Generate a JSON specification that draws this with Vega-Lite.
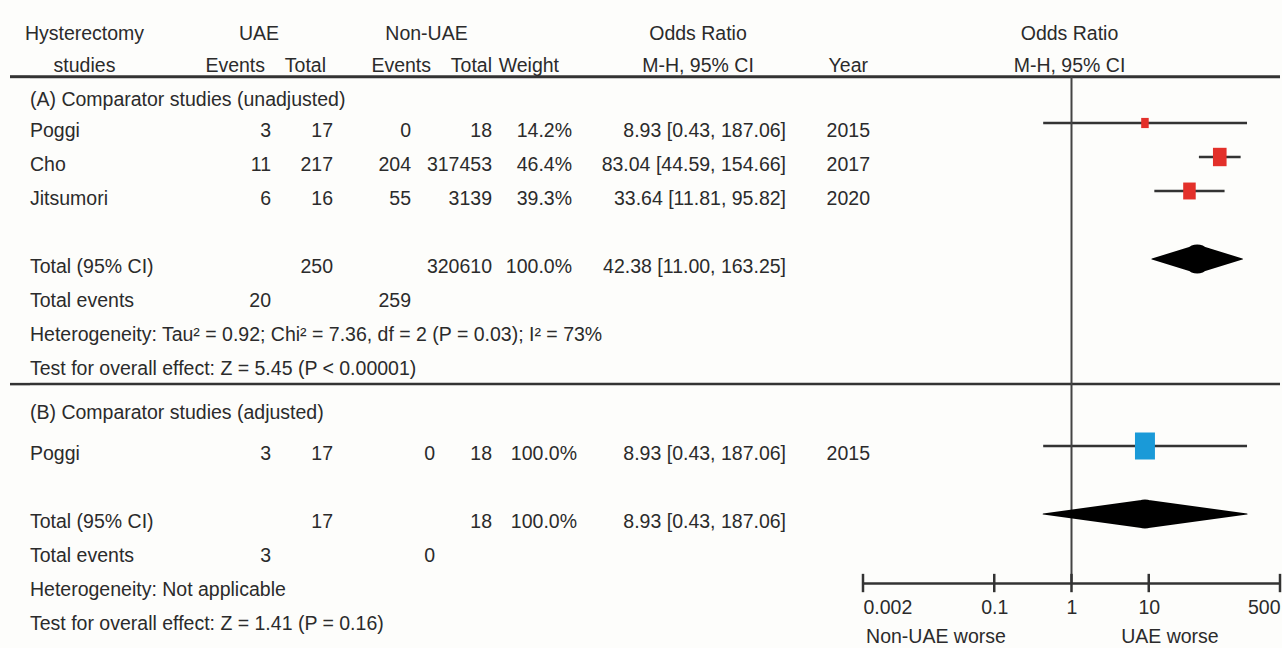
{
  "$schema": "https://vega.github.io/schema/vega-lite/v6.json",
  "background": "#fdfdfb",
  "padding": {"left": 8, "right": 4, "top": 0, "bottom": 0},
  "spacing": 0,
  "bounds": "flush",
  "config": {
    "view": {"stroke": null},
    "font": "Liberation Sans",
    "text": {"fontSize": 19.5, "color": "#2b2b2b", "baseline": "middle", "dy": 8, "font": "Liberation Sans"}
  },
  "datasets": {
    "rows": [
      {"row": -0.9, "study": "(A) Comparator studies (unadjusted)"},
      {"row": 0, "section": "A", "study": "Poggi", "uae_ev": "3", "uae_tot": "17", "non_ev": "0", "non_tot": "18", "weight": "14.2%", "or_ci": "8.93 [0.43, 187.06]", "year": "2015", "or": 8.93, "lo": 0.43, "hi": 187.06, "w": 14.2},
      {"row": 1, "section": "A", "study": "Cho", "uae_ev": "11", "uae_tot": "217", "non_ev": "204", "non_tot": "317453", "weight": "46.4%", "or_ci": "83.04 [44.59, 154.66]", "year": "2017", "or": 83.04, "lo": 44.59, "hi": 154.66, "w": 46.4},
      {"row": 2, "section": "A", "study": "Jitsumori", "uae_ev": "6", "uae_tot": "16", "non_ev": "55", "non_tot": "3139", "weight": "39.3%", "or_ci": "33.64 [11.81, 95.82]", "year": "2020", "or": 33.64, "lo": 11.81, "hi": 95.82, "w": 39.3},
      {"row": 4, "section": "A", "study": "Total (95% CI)", "uae_tot": "250", "non_tot": "320610", "weight": "100.0%", "or_ci": "42.38 [11.00, 163.25]", "pooled": 42.38, "plo": 11.00, "phi": 163.25},
      {"row": 5, "section": "A", "study": "Total events", "uae_ev": "20", "non_ev": "259"},
      {"row": 6, "section": "A", "study": "Heterogeneity: Tau² = 0.92; Chi² = 7.36, df = 2 (P = 0.03); I² = 73%"},
      {"row": 7, "section": "A", "study": "Test for overall effect: Z = 5.45 (P < 0.00001)"},
      {"row": 8.3, "study": "(B) Comparator studies (adjusted)"},
      {"row": 9.5, "section": "B", "study": "Poggi", "uae_ev": "3", "uae_tot": "17", "non_ev": "0", "non_tot": "18", "weight": "100.0%", "or_ci": "8.93 [0.43, 187.06]", "year": "2015", "or": 8.93, "lo": 0.43, "hi": 187.06, "w": 100},
      {"row": 11.5, "section": "B", "study": "Total (95% CI)", "uae_tot": "17", "non_tot": "18", "weight": "100.0%", "or_ci": "8.93 [0.43, 187.06]", "pooled": 8.93, "plo": 0.43, "phi": 187.06},
      {"row": 12.5, "section": "B", "study": "Total events", "uae_ev": "3", "non_ev": "0"},
      {"row": 13.5, "section": "B", "study": "Heterogeneity: Not applicable"},
      {"row": 14.5, "section": "B", "study": "Test for overall effect: Z = 1.41 (P = 0.16)"}
    ],
    "header": [
      {"row": -2.85, "study": "Hysterectomy", "uae": "UAE", "non": "Non-UAE", "or_ci": "Odds Ratio", "plot": "Odds Ratio"},
      {"row": -1.9, "study": "studies", "uae_ev": "Events", "uae_tot": "Total", "non_ev": "Events", "non_tot": "Total", "weight": "Weight", "or_ci": "M-H, 95% CI", "year": "Year", "plot": "M-H, 95% CI"}
    ],
    "ticks": [{"tick": 0.002}, {"tick": 0.1}, {"tick": 1}, {"tick": 10}, {"tick": 500}]
  },
  "hconcat": [
    {
      "width": 20, "height": 648,
      "layer": [
        {"data": {"values": [{}]}, "mark": {"type": "rule", "stroke": "#333", "strokeWidth": 3}, "encoding": {"y": {"datum": -1.362, "type": "quantitative", "scale": {"domain": [-3.6176, 15.4412], "reverse": true, "nice": false, "zero": false}, "axis": null}}},
        {"data": {"values": [{}]}, "mark": {"type": "rule", "stroke": "#333", "strokeWidth": 2.5}, "encoding": {"y": {"datum": 7.68, "type": "quantitative"}}},
        {"data": {"name": "rows"}, "mark": {"type": "text", "align": "left"}, "encoding": {"x": {"value": "width"}, "y": {"field": "row", "type": "quantitative"}, "text": {"field": "study"}}},
        {"data": {"name": "header"}, "transform": [{"filter": "datum.study != null"}], "mark": {"type": "text", "align": "center", "dx": 54.5}, "encoding": {"x": {"value": "width"}, "y": {"field": "row", "type": "quantitative"}, "text": {"field": "study"}}}
      ]
    },
    {
      "width": 241, "height": 648,
      "layer": [
        {"data": {"values": [{}]}, "mark": {"type": "rule", "stroke": "#333", "strokeWidth": 3}, "encoding": {"y": {"datum": -1.362, "type": "quantitative", "scale": {"domain": [-3.6176, 15.4412], "reverse": true, "nice": false, "zero": false}, "axis": null}}},
        {"data": {"values": [{}]}, "mark": {"type": "rule", "stroke": "#333", "strokeWidth": 2.5}, "encoding": {"y": {"datum": 7.68, "type": "quantitative"}}},
        {"data": {"name": "rows"}, "transform": [{"filter": "datum.uae_ev != null"}], "mark": {"type": "text", "align": "right"}, "encoding": {"x": {"value": "width"}, "y": {"field": "row", "type": "quantitative"}, "text": {"field": "uae_ev"}}},
        {"data": {"name": "header"}, "transform": [{"filter": "datum.uae_ev != null"}], "mark": {"type": "text", "align": "right", "dx": -6}, "encoding": {"x": {"value": "width"}, "y": {"field": "row", "type": "quantitative"}, "text": {"field": "uae_ev"}}},
        {"data": {"name": "header"}, "transform": [{"filter": "datum.uae != null"}], "mark": {"type": "text", "align": "center", "dx": -12}, "encoding": {"x": {"value": "width"}, "y": {"field": "row", "type": "quantitative"}, "text": {"field": "uae"}}}
      ]
    },
    {
      "width": 62, "height": 648,
      "layer": [
        {"data": {"values": [{}]}, "mark": {"type": "rule", "stroke": "#333", "strokeWidth": 3}, "encoding": {"y": {"datum": -1.362, "type": "quantitative", "scale": {"domain": [-3.6176, 15.4412], "reverse": true, "nice": false, "zero": false}, "axis": null}}},
        {"data": {"values": [{}]}, "mark": {"type": "rule", "stroke": "#333", "strokeWidth": 2.5}, "encoding": {"y": {"datum": 7.68, "type": "quantitative"}}},
        {"data": {"name": "rows"}, "transform": [{"filter": "datum.uae_tot != null"}], "mark": {"type": "text", "align": "right"}, "encoding": {"x": {"value": "width"}, "y": {"field": "row", "type": "quantitative"}, "text": {"field": "uae_tot"}}},
        {"data": {"name": "header"}, "transform": [{"filter": "datum.uae_tot != null"}], "mark": {"type": "text", "align": "right", "dx": -7}, "encoding": {"x": {"value": "width"}, "y": {"field": "row", "type": "quantitative"}, "text": {"field": "uae_tot"}}}
      ]
    },
    {
      "width": 78, "height": 648,
      "layer": [
        {"data": {"values": [{}]}, "mark": {"type": "rule", "stroke": "#333", "strokeWidth": 3}, "encoding": {"y": {"datum": -1.362, "type": "quantitative", "scale": {"domain": [-3.6176, 15.4412], "reverse": true, "nice": false, "zero": false}, "axis": null}}},
        {"data": {"values": [{}]}, "mark": {"type": "rule", "stroke": "#333", "strokeWidth": 2.5}, "encoding": {"y": {"datum": 7.68, "type": "quantitative"}}},
        {"data": {"name": "rows"}, "transform": [{"filter": "datum.non_ev != null && datum.section === 'A'"}], "mark": {"type": "text", "align": "right"}, "encoding": {"x": {"value": "width"}, "y": {"field": "row", "type": "quantitative"}, "text": {"field": "non_ev"}}},
        {"data": {"name": "rows"}, "transform": [{"filter": "datum.non_ev != null && datum.section === 'B'"}], "mark": {"type": "text", "align": "right", "dx": 24}, "encoding": {"x": {"value": "width"}, "y": {"field": "row", "type": "quantitative"}, "text": {"field": "non_ev"}}},
        {"data": {"name": "header"}, "transform": [{"filter": "datum.non_ev != null"}], "mark": {"type": "text", "align": "right", "dx": 20}, "encoding": {"x": {"value": "width"}, "y": {"field": "row", "type": "quantitative"}, "text": {"field": "non_ev"}}},
        {"data": {"name": "header"}, "transform": [{"filter": "datum.non != null"}], "mark": {"type": "text", "align": "center", "dx": 15.5}, "encoding": {"x": {"value": "width"}, "y": {"field": "row", "type": "quantitative"}, "text": {"field": "non"}}}
      ]
    },
    {
      "width": 81, "height": 648,
      "layer": [
        {"data": {"values": [{}]}, "mark": {"type": "rule", "stroke": "#333", "strokeWidth": 3}, "encoding": {"y": {"datum": -1.362, "type": "quantitative", "scale": {"domain": [-3.6176, 15.4412], "reverse": true, "nice": false, "zero": false}, "axis": null}}},
        {"data": {"values": [{}]}, "mark": {"type": "rule", "stroke": "#333", "strokeWidth": 2.5}, "encoding": {"y": {"datum": 7.68, "type": "quantitative"}}},
        {"data": {"name": "rows"}, "transform": [{"filter": "datum.non_tot != null"}], "mark": {"type": "text", "align": "right"}, "encoding": {"x": {"value": "width"}, "y": {"field": "row", "type": "quantitative"}, "text": {"field": "non_tot"}}},
        {"data": {"name": "header"}, "transform": [{"filter": "datum.non_tot != null"}], "mark": {"type": "text", "align": "right"}, "encoding": {"x": {"value": "width"}, "y": {"field": "row", "type": "quantitative"}, "text": {"field": "non_tot"}}}
      ]
    },
    {
      "width": 80, "height": 648,
      "layer": [
        {"data": {"values": [{}]}, "mark": {"type": "rule", "stroke": "#333", "strokeWidth": 3}, "encoding": {"y": {"datum": -1.362, "type": "quantitative", "scale": {"domain": [-3.6176, 15.4412], "reverse": true, "nice": false, "zero": false}, "axis": null}}},
        {"data": {"values": [{}]}, "mark": {"type": "rule", "stroke": "#333", "strokeWidth": 2.5}, "encoding": {"y": {"datum": 7.68, "type": "quantitative"}}},
        {"data": {"name": "rows"}, "transform": [{"filter": "datum.weight != null && datum.section === 'A'"}], "mark": {"type": "text", "align": "right"}, "encoding": {"x": {"value": "width"}, "y": {"field": "row", "type": "quantitative"}, "text": {"field": "weight"}}},
        {"data": {"name": "rows"}, "transform": [{"filter": "datum.weight != null && datum.section === 'B'"}], "mark": {"type": "text", "align": "right", "dx": 5}, "encoding": {"x": {"value": "width"}, "y": {"field": "row", "type": "quantitative"}, "text": {"field": "weight"}}},
        {"data": {"name": "header"}, "transform": [{"filter": "datum.weight != null"}], "mark": {"type": "text", "align": "right", "dx": -13}, "encoding": {"x": {"value": "width"}, "y": {"field": "row", "type": "quantitative"}, "text": {"field": "weight"}}}
      ]
    },
    {
      "width": 214, "height": 648,
      "layer": [
        {"data": {"values": [{}]}, "mark": {"type": "rule", "stroke": "#333", "strokeWidth": 3}, "encoding": {"y": {"datum": -1.362, "type": "quantitative", "scale": {"domain": [-3.6176, 15.4412], "reverse": true, "nice": false, "zero": false}, "axis": null}}},
        {"data": {"values": [{}]}, "mark": {"type": "rule", "stroke": "#333", "strokeWidth": 2.5}, "encoding": {"y": {"datum": 7.68, "type": "quantitative"}}},
        {"data": {"name": "rows"}, "transform": [{"filter": "datum.or_ci != null"}], "mark": {"type": "text", "align": "right"}, "encoding": {"x": {"value": "width"}, "y": {"field": "row", "type": "quantitative"}, "text": {"field": "or_ci"}}},
        {"data": {"name": "header"}, "transform": [{"filter": "datum.or_ci != null"}], "mark": {"type": "text", "align": "center", "dx": -88}, "encoding": {"x": {"value": "width"}, "y": {"field": "row", "type": "quantitative"}, "text": {"field": "or_ci"}}}
      ]
    },
    {
      "width": 77, "height": 648,
      "layer": [
        {"data": {"values": [{}]}, "mark": {"type": "rule", "stroke": "#333", "strokeWidth": 3}, "encoding": {"y": {"datum": -1.362, "type": "quantitative", "scale": {"domain": [-3.6176, 15.4412], "reverse": true, "nice": false, "zero": false}, "axis": null}}},
        {"data": {"values": [{}]}, "mark": {"type": "rule", "stroke": "#333", "strokeWidth": 2.5}, "encoding": {"y": {"datum": 7.68, "type": "quantitative"}}},
        {"data": {"name": "rows"}, "transform": [{"filter": "datum.year != null"}], "mark": {"type": "text", "align": "right", "dx": 7}, "encoding": {"x": {"value": "width"}, "y": {"field": "row", "type": "quantitative"}, "text": {"field": "year"}}},
        {"data": {"name": "header"}, "transform": [{"filter": "datum.year != null"}], "mark": {"type": "text", "align": "right", "dx": 5}, "encoding": {"x": {"value": "width"}, "y": {"field": "row", "type": "quantitative"}, "text": {"field": "year"}}}
      ]
    },
    {
      "width": 417, "height": 583,
      "layer": [
        {"data": {"values": [{}]}, "mark": {"type": "rule", "stroke": "#333", "strokeWidth": 3}, "encoding": {"y": {"datum": -1.362, "type": "quantitative", "scale": {"domain": [-3.6176, 13.5294], "reverse": true, "nice": false, "zero": false}, "axis": null}}},
        {"data": {"values": [{}]}, "mark": {"type": "rule", "stroke": "#333", "strokeWidth": 2.5}, "encoding": {"y": {"datum": 7.68, "type": "quantitative"}}},
        {
          "data": {"name": "rows"},
          "transform": [{"filter": "datum.lo != null"}],
          "mark": {"type": "rule", "stroke": "#333", "strokeWidth": 2.6},
          "encoding": {
            "x": {"field": "lo", "type": "quantitative",
              "scale": {"type": "log", "domain": [0.002, 500], "nice": false},
              "axis": {"values": [0.002, 0.1, 1, 10, 500], "format": "~g", "labelFlush": true, "ticks": false, "grid": false, "domainColor": "#333", "domainWidth": 2.5, "labelPadding": 15, "labelFontSize": 19.5, "labelFont": "Liberation Sans", "labelColor": "#2b2b2b", "title": null}},
            "x2": {"field": "hi"},
            "y": {"field": "row", "type": "quantitative"}
          }
        },
        {"data": {"values": [{}]}, "mark": {"type": "rule", "stroke": "#444", "strokeWidth": 2}, "encoding": {"x": {"datum": 1}, "y": {"datum": -1.362}, "y2": {"datum": 13.53}}},
        {"data": {"name": "ticks"}, "mark": {"type": "rule", "stroke": "#333", "strokeWidth": 2.5}, "encoding": {"x": {"field": "tick", "type": "quantitative"}, "y": {"datum": 13.26}, "y2": {"datum": 13.8}}},
        {
          "data": {"name": "rows"},
          "transform": [{"filter": "datum.or != null"}],
          "mark": {"type": "point", "shape": "M-0.74,-1H0.74V1H-0.74Z", "filled": true, "opacity": 1, "strokeWidth": 0},
          "encoding": {
            "x": {"field": "or", "type": "quantitative"},
            "y": {"field": "row", "type": "quantitative"},
            "size": {"field": "w", "type": "quantitative", "scale": {"domain": [0, 100], "range": [0, 729], "zero": true}, "legend": null},
            "color": {"field": "section", "type": "nominal", "scale": {"domain": ["A", "B"], "range": ["#e3302a", "#1a9ad8"]}, "legend": null}
          }
        },
        {
          "data": {"name": "rows"},
          "transform": [{"filter": "datum.pooled != null"}, {"fold": ["plo", "pooled", "phi"], "as": ["stat", "value"]}],
          "mark": {"type": "trail", "color": "#000"},
          "encoding": {
            "x": {"field": "value", "type": "quantitative"},
            "y": {"field": "row", "type": "quantitative"},
            "detail": {"field": "section", "type": "nominal"},
            "order": {"field": "value", "type": "quantitative"},
            "size": {"condition": {"test": "datum.stat === 'pooled'", "value": 29}, "value": 0}
          }
        },
        {"data": {"name": "header"}, "transform": [{"filter": "datum.plot != null"}], "mark": {"type": "text", "align": "center", "dx": -2}, "encoding": {"x": {"datum": 1}, "y": {"field": "row", "type": "quantitative"}, "text": {"field": "plot"}}},
        {"data": {"values": [{}]}, "mark": {"type": "text", "align": "center", "text": "Non-UAE worse"}, "encoding": {"x": {"datum": 0.0176}, "y": {"datum": 14.88}}},
        {"data": {"values": [{}]}, "mark": {"type": "text", "align": "center", "text": "UAE worse"}, "encoding": {"x": {"datum": 18.8}, "y": {"datum": 14.88}}}
      ]
    }
  ]
}
